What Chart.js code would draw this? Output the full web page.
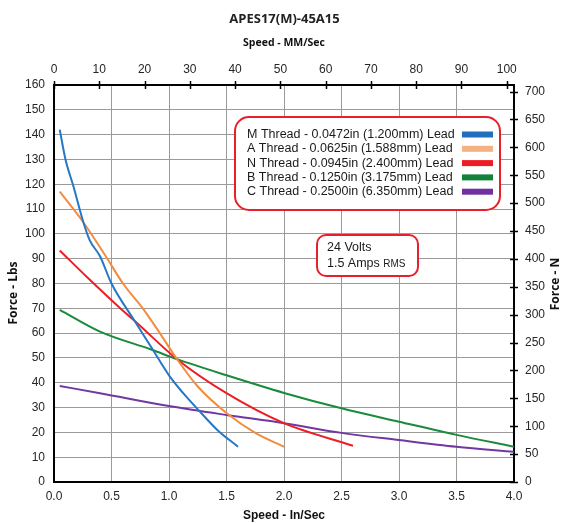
<!DOCTYPE html>
<html>
<head>
<meta charset="utf-8">
<script src="https://cdn.jsdelivr.net/npm/chart.js@4.4.1/dist/chart.umd.min.js"></script>
<style>
  html, body { margin: 0; padding: 0; background: #fff; }
</style>
</head>
<body>
<canvas id="chart" width="569" height="523"></canvas>
<script>
// thread curves, speed in in/sec, force in lbs
const seriesNames = [
  'M Thread - 0.0472in (1.200mm) Lead',
  'A Thread - 0.0625in (1.588mm) Lead',
  'N Thread - 0.0945in (2.400mm) Lead',
  'B Thread - 0.1250in (3.175mm) Lead',
  'C Thread - 0.2500in (6.350mm) Lead'
]
const lineColors = ['#2478c6', '#f28c3e', '#ee1d24', '#1a8a3c', '#7237a0']
const swatchColors = ['#1f6fbf', '#f4b183', '#ee1d24', '#13813a', '#7030a0']

const mSpeed = [0.05, 0.1, 0.17, 0.25, 0.31, 0.4, 0.5, 0.7, 0.85, 1.0, 1.12, 1.27, 1.42, 1.6]
const mForce = [142, 130, 119, 105.5, 97.5, 91, 80, 65, 54, 43, 36, 28.3, 21, 14.2]

const aSpeed = [0.05, 0.25, 0.45, 0.6, 0.78, 0.92, 1.07, 1.25, 1.5, 1.75, 2.0]
const aForce = [117, 105, 91, 80, 69.5, 60, 49.5, 38.5, 27.8, 19.8, 14.2]

const nSpeed = [0.05, 0.3, 0.6, 0.7, 1.07, 1.5, 2.0, 2.6]
const nForce = [93.3, 82, 69, 65, 49.5, 35.8, 23.7, 14.6]

const bSpeed = [0.05, 0.4, 0.85, 1.07, 1.5, 2.0, 2.5, 3.0, 3.5, 4.0]
const bForce = [69.4, 60.6, 53.3, 49.5, 43, 35.9, 29.7, 24.3, 19, 14.2]

const cSpeed = [0.05, 0.4, 1.0, 1.5, 2.0, 2.5, 3.0, 3.5, 4.0]
const cForce = [38.7, 35.8, 30.6, 27, 23.7, 19.8, 16.9, 14.2, 12.2]

const speeds = [mSpeed, aSpeed, nSpeed, bSpeed, cSpeed]
const forces = [mForce, aForce, nForce, bForce, cForce]

const noteLines = ['24 Volts', '1.5 Amps']

const LBS_TO_N = 4.44822
const IN_TO_MM = 25.4

const tickFont = { family: 'Liberation Sans', size: 12 }
const tickColor = '#262626'
const gridColor = '#9a9a9a'

const decorations = {
  id: 'decorations',
  afterDraw(chart) {
    const ctx = chart.ctx
    const { x2, y2 } = chart.scales
    ctx.save()

    // tick marks crossing the top and right axes
    ctx.strokeStyle = '#000'
    ctx.lineWidth = 1.5
    x2.ticks.forEach(t => {
      const px = Math.round(x2.getPixelForValue(t.value)) + 0.5
      ctx.beginPath()
      ctx.moveTo(px, x2.bottom - 4)
      ctx.lineTo(px, x2.bottom + 4)
      ctx.stroke()
    })
    y2.ticks.forEach(t => {
      const py = Math.round(y2.getPixelForValue(t.value)) + 0.5
      ctx.beginPath()
      ctx.moveTo(y2.left - 4, py)
      ctx.lineTo(y2.left + 4, py)
      ctx.stroke()
    })

    // vertical axis titles
    ctx.fillStyle = '#111'
    ctx.font = 'bold 12px "Open Sans"'
    ctx.textAlign = 'center'
    ctx.textBaseline = 'middle'
    ctx.save()
    ctx.translate(14, 293)
    ctx.rotate(-Math.PI / 2)
    ctx.fillText('Force - Lbs', 0, 0)
    ctx.restore()
    ctx.save()
    ctx.translate(556, 284)
    ctx.rotate(-Math.PI / 2)
    ctx.fillText('Force - N', 0, 0)
    ctx.restore()

    // legend box
    ctx.fillStyle = '#fff'
    ctx.strokeStyle = '#e8202a'
    ctx.lineWidth = 2
    ctx.beginPath()
    ctx.roundRect(235, 117, 265, 93, 14)
    ctx.fill()
    ctx.stroke()
    ctx.textAlign = 'left'
    ctx.font = '12.5px "Liberation Sans"'
    seriesNames.forEach((name, i) => {
      const cy = 134.5 + i * 14.3
      ctx.fillStyle = '#1a1a1a'
      ctx.fillText(name, 247, cy)
      ctx.fillStyle = swatchColors[i]
      ctx.fillRect(462, cy - 3, 31, 6)
    })

    // supply note
    ctx.fillStyle = '#fff'
    ctx.beginPath()
    ctx.roundRect(317, 235, 101, 41, 9)
    ctx.fill()
    ctx.stroke()
    ctx.fillStyle = '#1a1a1a'
    ctx.fillText(noteLines[0], 327, 248)
    ctx.fillText(noteLines[1], 327, 263.5)
    const w = ctx.measureText(noteLines[1] + ' ').width
    ctx.font = '10px "Liberation Sans"'
    ctx.fillText('RMS', 327 + w, 264)

    ctx.restore()
  }
}

new Chart(document.getElementById('chart'), {
  type: 'line',
  data: {
    datasets: seriesNames.map((name, i) => ({
      label: name,
      data: speeds[i].map((x, j) => ({ x: x, y: forces[i][j] })),
      borderColor: lineColors[i],
      backgroundColor: lineColors[i],
      borderWidth: 2,
      pointRadius: 0,
      cubicInterpolationMode: 'monotone',
      xAxisID: 'x',
      yAxisID: 'y'
    }))
  },
  options: {
    responsive: false,
    animation: false,
    devicePixelRatio: 1,
    plugins: {
      legend: { display: false },
      tooltip: { enabled: false },
      title: {
        display: true,
        text: 'APES17(M)-45A15',
        color: '#222',
        font: { family: 'Open Sans', size: 13, weight: 'bold' },
        padding: { top: 11, bottom: 4 }
      }
    },
    scales: {
      x: {
        type: 'linear',
        position: 'bottom',
        min: 0,
        max: 4,
        afterFit: s => { s.height = 41 },
        ticks: {
          stepSize: 0.5,
          padding: 7.5,
          color: tickColor,
          font: tickFont,
          maxRotation: 0,
          callback: v => v.toFixed(1)
        },
        grid: { color: gridColor, drawTicks: false },
        border: { color: '#000', width: 2 },
        title: {
          display: true,
          text: 'Speed - In/Sec',
          color: '#111',
          font: { family: 'Liberation Sans', size: 12, weight: 'bold' },
          padding: { top: 0, bottom: 0 }
        }
      },
      x2: {
        type: 'linear',
        position: 'top',
        display: true,
        min: 0,
        max: 4 * IN_TO_MM,
        afterFit: s => { s.height = 54.4 },
        ticks: {
          stepSize: 10,
          includeBounds: false,
          padding: 8,
          color: tickColor,
          font: tickFont,
          maxRotation: 0
        },
        grid: { drawOnChartArea: false, drawTicks: false },
        border: { color: '#000', width: 2 },
        title: {
          display: true,
          text: 'Speed - MM/Sec',
          color: '#111',
          font: { family: 'Open Sans', size: 10.5, weight: 'bold' },
          padding: { top: 6.4, bottom: 0 }
        }
      },
      y: {
        type: 'linear',
        position: 'left',
        min: 0,
        max: 160,
        afterFit: s => { s.width = 54 },
        ticks: { stepSize: 10, padding: 9, color: tickColor, font: tickFont },
        grid: { color: gridColor, drawTicks: false },
        border: { color: '#000', width: 2 }
      },
      y2: {
        type: 'linear',
        position: 'right',
        display: true,
        min: 0,
        max: 160 * LBS_TO_N,
        afterFit: s => { s.width = 55 },
        ticks: { stepSize: 50, includeBounds: false, padding: 11, color: tickColor, font: tickFont },
        grid: { drawOnChartArea: false, drawTicks: false },
        border: { color: '#000', width: 2 }
      }
    }
  },
  plugins: [decorations]
})
</script>
</body>
</html>
